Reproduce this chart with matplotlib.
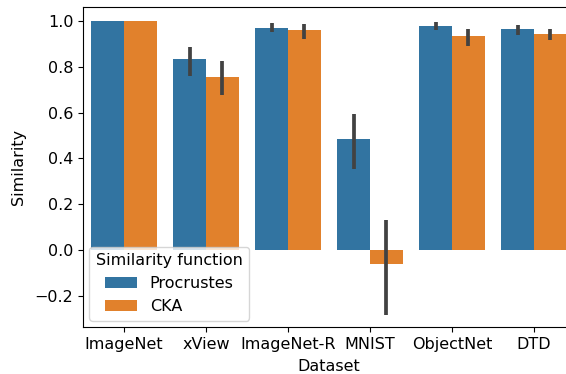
import matplotlib
matplotlib.use("Agg")
import matplotlib.pyplot as plt
import numpy as np

datasets = ["ImageNet", "xView", "ImageNet-R", "MNIST", "ObjectNet", "DTD"]
procrustes = [1.0, 0.833, 0.971, 0.483, 0.980, 0.964]
procrustes_lo = [1.0, 0.761, 0.951, 0.352, 0.962, 0.939]
procrustes_hi = [1.0, 0.888, 0.990, 0.593, 0.994, 0.983]
cka = [1.0, 0.755, 0.961, -0.061, 0.933, 0.942]
cka_lo = [1.0, 0.677, 0.923, -0.284, 0.892, 0.919]
cka_hi = [1.0, 0.827, 0.986, 0.131, 0.966, 0.966]

blue = "#3274a1"
orange = "#e1812c"

plt.rcParams["font.size"] = 11.5

fig = plt.figure(figsize=(5.66, 3.74), dpi=100)
ax = fig.add_axes([83/566, 1 - 327/374, 492/566, 320/374])

x = np.arange(len(datasets))
w = 0.4
ax.bar(x - w/2, procrustes, width=w, color=blue, label="Procrustes")
ax.bar(x + w/2, cka, width=w, color=orange, label="CKA")
for xi, lo, hi in zip(x - w/2, procrustes_lo, procrustes_hi):
    ax.plot([xi, xi], [lo, hi], color=".26", lw=2.7, solid_capstyle="butt")
for xi, lo, hi in zip(x + w/2, cka_lo, cka_hi):
    ax.plot([xi, xi], [lo, hi], color=".26", lw=2.7, solid_capstyle="butt")

ax.set_xlim(-0.5, len(datasets) - 0.5)
ax.set_ylim(-0.336, 1.061)
ax.set_xticks(x)
ax.set_xticklabels(datasets)
ax.set_yticks([-0.2, 0.0, 0.2, 0.4, 0.6, 0.8, 1.0])
ax.set_xlabel("Dataset", labelpad=5)
ax.set_ylabel("Similarity", labelpad=6)
ax.legend(title="Similarity function", loc="lower left", borderaxespad=0.4,
          title_fontsize=11.5)

fig.savefig("out.png", dpi=100)
